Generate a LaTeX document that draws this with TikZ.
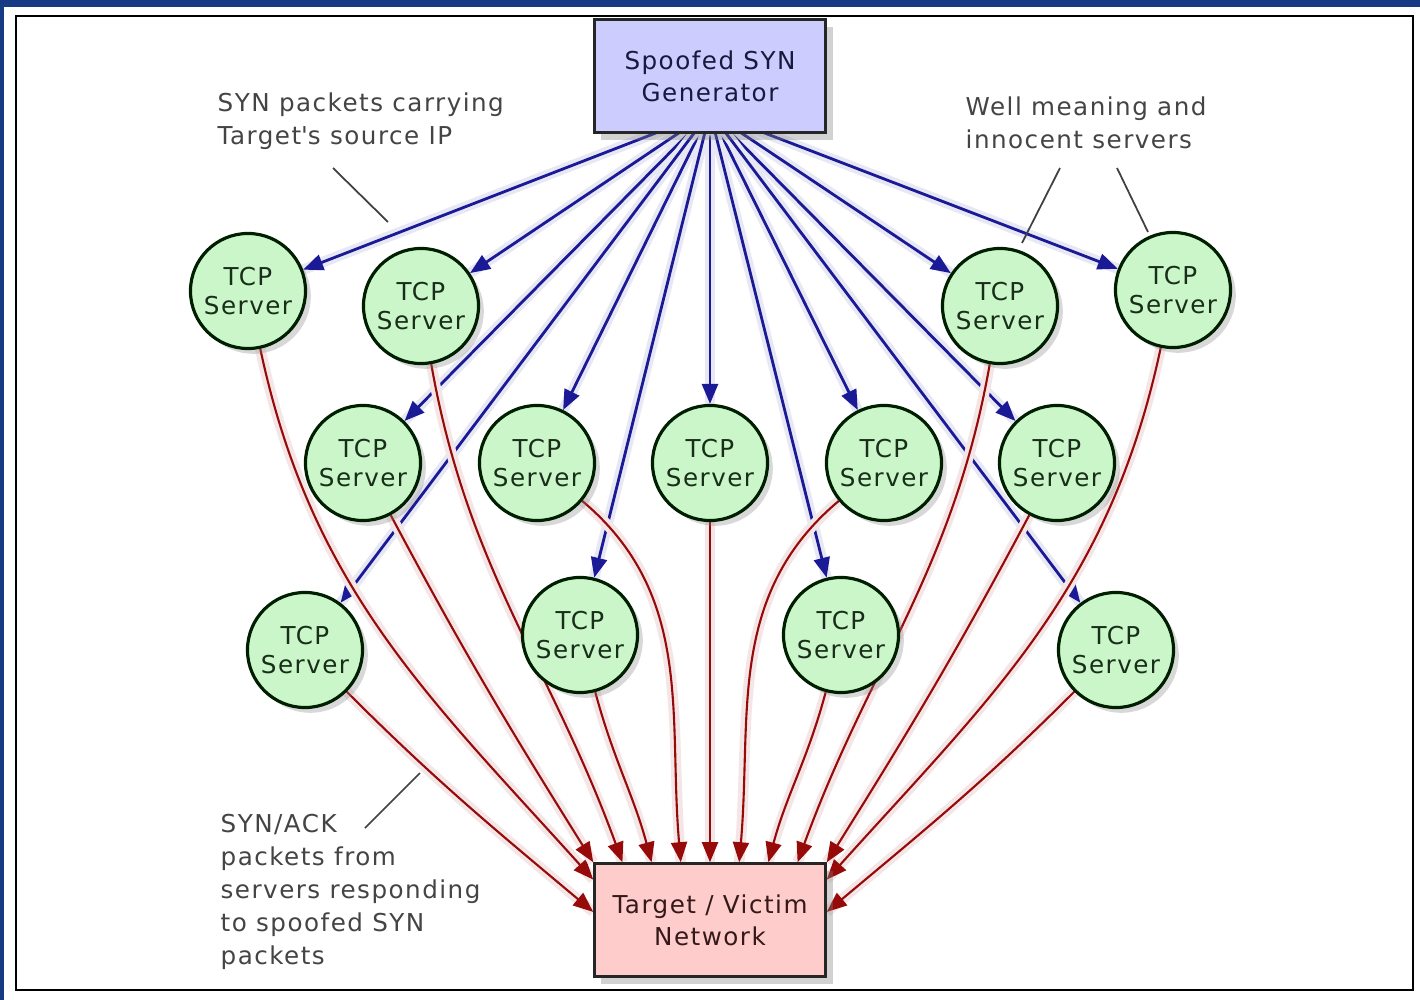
\documentclass[tikz,border=0pt]{standalone}
\usepackage{fontspec}
\setmainfont[LetterSpace=6]{DejaVu Sans}
\usetikzlibrary{arrows.meta,positioning,calc,shadows,backgrounds}
\definecolor{bgblue}{RGB}{22,58,132}
\definecolor{lav}{RGB}{204,204,255}
\definecolor{tgtpink}{RGB}{255,204,204}
\definecolor{srvgreen}{RGB}{202,246,202}
\definecolor{synblue}{RGB}{26,26,150}
\definecolor{ackred}{RGB}{150,10,10}
\definecolor{notegray}{RGB}{68,68,68}
\newcommand{\straightquote}{\XeTeXglyph\XeTeXcharglyph"27\relax}
\tikzset{
  blk/.style={draw=black!85,line width=0.7pt,rectangle,minimum width=2.31cm,minimum height=1.13cm,align=center,
    font=\fontsize{7}{9.2}\selectfont,drop shadow={shadow xshift=2pt,shadow yshift=-2pt,opacity=0.35}},
  genblk/.style={blk,fill=lav,text=black!60!blue!40!black!90},
  tgtblk/.style={blk,fill=tgtpink,text=black!60!red!30!black!90},
  srvnode/.style={circle,draw=black!70!green!40!black,line width=0.9pt,fill=srvgreen,minimum size=1.15cm,inner sep=0pt,
    align=center,font=\fontsize{7}{8.4}\selectfont,text=black!70!green!30!black!90,
    drop shadow={shadow xshift=1.5pt,shadow yshift=-1.5pt,opacity=0.3}},
  synarr/.style={-{Triangle[length=0.2cm,width=0.16cm]},draw=synblue,line width=0.8pt,
    preaction={draw=synblue!10,line width=3pt,arrows=-}},
  ackarr/.style={-{Triangle[length=0.2cm,width=0.16cm]},draw=ackred,line width=0.6pt,
    preaction={draw=ackred!10,line width=3pt,arrows=-}},
  note/.style={anchor=west,inner sep=0pt,align=left,text=notegray,font=\fontsize{7}{9.4}\selectfont},
  pointer/.style={draw=black!75,line width=0.5pt}
}
\begin{document}
\begin{tikzpicture}[x=0.01cm,y=0.01cm]
  \begin{pgfonlayer}{background}
    \fill[bgblue] (0,0) rectangle (1420,-1000);
    \fill[white] (4,-7) rectangle (1420,-1000);
    \draw[line width=0.7pt] (16,-16) rectangle (1413,-990);
  \end{pgfonlayer}

  \node[genblk] (gen) at (710,-76) {Spoofed SYN\\Generator};
  \node[tgtblk] (tgt) at (710,-920) {Target / Victim\\Network};

  % servers, top row
  \node[srvnode] (s1) at (248,-291) {TCP\\Server};
  \node[srvnode] (s2) at (421,-306) {TCP\\Server};
  \node[srvnode] (s10) at (1000,-306) {TCP\\Server};
  \node[srvnode] (s12) at (1173,-290) {TCP\\Server};
  % middle row
  \node[srvnode] (s3) at (363,-463) {TCP\\Server};
  \node[srvnode] (s4) at (537,-463) {TCP\\Server};
  \node[srvnode] (s5) at (710,-463) {TCP\\Server};
  \node[srvnode] (s6) at (884,-463) {TCP\\Server};
  \node[srvnode] (s11) at (1057,-463) {TCP\\Server};
  % bottom row
  \node[srvnode] (s7) at (305,-650) {TCP\\Server};
  \node[srvnode] (s8) at (580,-635) {TCP\\Server};
  \node[srvnode] (s9) at (841,-635) {TCP\\Server};
  \node[srvnode] (s13) at (1116,-650) {TCP\\Server};

  \node[note] (synlbl) at (217,-121) {SYN packets carrying\\Target\straightquote s source IP};
  \node[note] (welllbl) at (965,-123) {Well meaning and\\innocent servers};
  \node[note] (acklbl) at (220,-892) {SYN/ACK\\packets from\\servers responding\\to spoofed SYN\\packets};

  \coordinate (hub) at (710,-112);
  \coordinate (t1) at (tgt.north west);
  \coordinate (t2) at ($(tgt.north west)!0.125!(tgt.north east)$);
  \coordinate (t3) at ($(tgt.north west)!0.25!(tgt.north east)$);
  \coordinate (t4) at ($(tgt.north west)!0.375!(tgt.north east)$);
  \coordinate (t5) at (tgt.north);
  \coordinate (t6) at ($(tgt.north west)!0.625!(tgt.north east)$);
  \coordinate (t7) at ($(tgt.north west)!0.75!(tgt.north east)$);
  \coordinate (t8) at ($(tgt.north west)!0.875!(tgt.north east)$);
  \coordinate (t9) at (tgt.north east);
  \coordinate (l1) at ($(tgt.north west)!0.15!(tgt.south west)$);
  \coordinate (l2) at ($(tgt.north west)!0.43!(tgt.south west)$);
  \coordinate (r1) at ($(tgt.north east)!0.15!(tgt.south east)$);
  \coordinate (r2) at ($(tgt.north east)!0.43!(tgt.south east)$);

  \begin{pgfonlayer}{background}
    % spoofed SYNs
    \draw[synarr] (hub) -- (s1);
    \draw[synarr] (hub) -- (s2);
    \draw[synarr] (hub) -- (s3);
    \draw[synarr] (hub) -- (s4);
    \draw[synarr] (hub) -- (s5);
    \draw[synarr] (hub) -- (s6);
    \draw[synarr] (hub) -- (s7);
    \draw[synarr] (hub) -- (s8);
    \draw[synarr] (hub) -- (s9);
    \draw[synarr] (hub) -- (s10);
    \draw[synarr] (hub) -- (s11);
    \draw[synarr] (hub) -- (s12);
    \draw[synarr] (hub) -- (s13);
    % SYN/ACK replies
    \draw[ackarr] (s1) to[out=-78,in=132] (l1);
    \draw[ackarr] (s2) to[out=-80,in=110] (t2);
    \draw[ackarr] (s3) to[out=-62,in=122] (t1);
    \draw[ackarr] (s4) to[out=-40,in=95] (t4);
    \draw[ackarr] (s5) -- (t5);
    \draw[ackarr] (s6) to[out=-140,in=85] (t6);
    \draw[ackarr] (s7) to[out=-45,in=140] (l2);
    \draw[ackarr] (s8) to[out=-75,in=105] (t3);
    \draw[ackarr] (s9) to[out=-105,in=75] (t7);
    \draw[ackarr] (s10) to[out=-100,in=70] (t8);
    \draw[ackarr] (s11) to[out=-118,in=58] (t9);
    \draw[ackarr] (s12) to[out=-102,in=48] (r1);
    \draw[ackarr] (s13) to[out=-135,in=40] (r2);
  \end{pgfonlayer}

  % callout lines
  \coordinate (synA) at (333,-168);
  \coordinate (synB) at (388,-222);
  \coordinate (wellA) at (1060,-168);
  \coordinate (wellB) at (1022,-243);
  \coordinate (wellC) at (1117,-168);
  \coordinate (wellD) at (1148,-232);
  \coordinate (ackA) at (365,-828);
  \coordinate (ackB) at (420,-773);
  \draw[pointer] (synA) -- (synB);
  \draw[pointer] (wellA) -- (wellB);
  \draw[pointer] (wellC) -- (wellD);
  \draw[pointer] (ackA) -- (ackB);
\end{tikzpicture}
\end{document}
